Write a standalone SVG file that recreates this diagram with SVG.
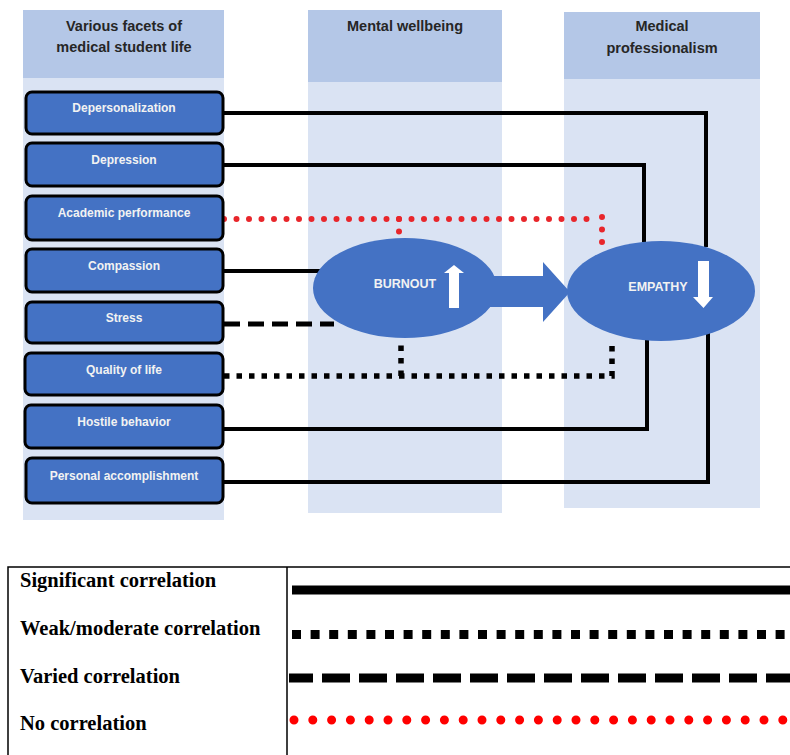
<svg xmlns="http://www.w3.org/2000/svg" width="790" height="755" viewBox="0 0 790 755">
<style>
.colbody{fill:#dae3f3}
.colhead{fill:#b4c7e7}
.htxt{font-family:"Liberation Sans",Arial,sans-serif;font-weight:bold;font-size:14.5px;fill:#262626;text-anchor:middle}
.node rect{fill:#4472c4;stroke:#000;stroke-width:3}
.node text{font-family:"Liberation Sans",Arial,sans-serif;font-weight:bold;font-size:12px;fill:#f2f2f2;text-anchor:middle}
.ell{fill:#4472c4}
.etxt{font-family:"Liberation Sans",Arial,sans-serif;font-weight:bold;font-size:12.5px;fill:#f2f2f2;text-anchor:middle}
.solid{fill:none;stroke:#000;stroke-width:4}
.dash{fill:none;stroke:#000;stroke-width:5;stroke-dasharray:16 8}
.sq{fill:none;stroke:#000;stroke-width:5.5;stroke-dasharray:5.5 7}
.red{fill:none;stroke:#e8262b;stroke-width:6;stroke-linecap:round;stroke-dasharray:0 12.5}
.ltxt{font-family:"Liberation Serif","Times New Roman",serif;font-weight:bold;font-size:20.5px;fill:#000}
</style>
<rect width="790" height="755" fill="#fff"/>
<g id="columns">
<rect class="colbody" x="23" y="10" width="201" height="510"/>
<rect class="colhead" x="23" y="10" width="201" height="68"/>
<rect class="colbody" x="308" y="10" width="194" height="503"/>
<rect class="colhead" x="308" y="10" width="194" height="72"/>
<rect class="colbody" x="564" y="12" width="196" height="496"/>
<rect class="colhead" x="564" y="12" width="196" height="67"/>
<text class="htxt" x="124" y="31">Various facets of</text>
<text class="htxt" x="124" y="52">medical student life</text>
<text class="htxt" x="405" y="31">Mental wellbeing</text>
<text class="htxt" x="662" y="31">Medical</text>
<text class="htxt" x="662" y="53">professionalism</text>
</g>
<g id="connectors">
<path class="solid" d="M224 113H706V247"/>
<path class="solid" d="M224 165H644V242"/>
<path class="red" d="M224 219H590"/>
<path class="red" d="M602 217V252"/>
<path class="red" d="M399 219V239"/>
<path class="solid" d="M224 271H322"/>
<path class="dash" d="M224 324H334"/>
<path class="sq" d="M224 376H612V340"/>
<path class="sq" d="M401 376V339"/>
<path class="solid" d="M224 429H647V338"/>
<path class="solid" d="M224 482H708V333"/>
</g>
<g id="burnout">
<ellipse class="ell" cx="405" cy="288" rx="92" ry="50"/>
<text class="etxt" x="405" y="288">BURNOUT</text>
<path d="M449 308V273H444L454 265L464 273H459V308Z" fill="#fff"/>
</g>
<g id="arrow">
<path class="ell" d="M490 276H543V262L570 292L543 322V307H490Z"/>
</g>
<g id="empathy">
<ellipse class="ell" cx="661" cy="291" rx="94" ry="50"/>
<text class="etxt" x="658" y="291">EMPATHY</text>
<path d="M698 261H709V297H713L703.5 308L693 297H698Z" fill="#fff"/>
</g>
<g id="nodes">
<g class="node" id="n1"><rect x="26" y="92" width="197" height="42" rx="6"/><text x="124" y="112">Depersonalization</text></g>
<g class="node" id="n2"><rect x="26" y="143" width="197" height="43" rx="6"/><text x="124" y="164">Depression</text></g>
<g class="node" id="n3"><rect x="26" y="196" width="197" height="44" rx="6"/><text x="124" y="217">Academic performance</text></g>
<g class="node" id="n4"><rect x="26" y="249" width="197" height="43" rx="6"/><text x="124" y="270">Compassion</text></g>
<g class="node" id="n5"><rect x="26" y="302" width="197" height="41" rx="6"/><text x="124" y="322">Stress</text></g>
<g class="node" id="n6"><rect x="25" y="353" width="198" height="42" rx="6"/><text x="124" y="374">Quality of life</text></g>
<g class="node" id="n7"><rect x="25" y="405" width="198" height="43" rx="6"/><text x="124" y="426">Hostile behavior</text></g>
<g class="node" id="n8"><rect x="26" y="458" width="197" height="45" rx="6"/><text x="124" y="480">Personal accomplishment</text></g>
</g>
<g id="legend">
<path d="M8 756V567H792M287 567V756" fill="none" stroke="#000" stroke-width="1.5"/>
<text class="ltxt" x="20" y="587">Significant correlation</text>
<text class="ltxt" x="20" y="635">Weak/moderate correlation</text>
<text class="ltxt" x="20" y="683">Varied correlation</text>
<text class="ltxt" x="20" y="730">No correlation</text>
<line x1="292" y1="590" x2="792" y2="590" stroke="#000" stroke-width="9"/>
<line x1="292" y1="634.5" x2="792" y2="634.5" stroke="#000" stroke-width="9" stroke-dasharray="9 9.6"/>
<line x1="289" y1="678" x2="792" y2="678" stroke="#000" stroke-width="9" stroke-dasharray="24 9 28 9 28 9 28 9 28 9 28 9 28 9 28 9 28 9 28 9 28 9 28 9 28 9 28 9 28 9"/>
<line x1="294" y1="720" x2="792" y2="720" stroke="#ff0000" stroke-width="9" stroke-linecap="round" stroke-dasharray="0 18.8"/>
</g>
</svg>
